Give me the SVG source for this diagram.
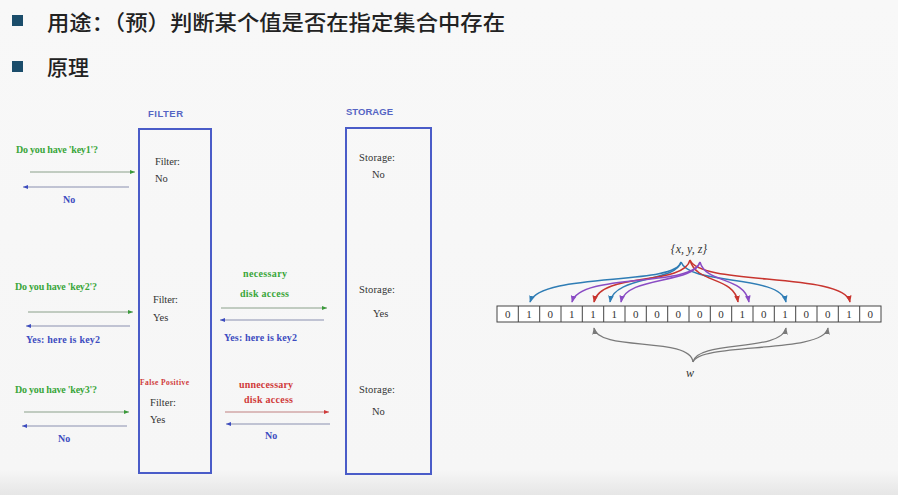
<svg xmlns="http://www.w3.org/2000/svg" width="898" height="495" viewBox="0 0 898 495">
<defs>
<linearGradient id="bg" x1="0" y1="0" x2="0" y2="1">
<stop offset="0" stop-color="#f8f8f8"/>
<stop offset="0.95" stop-color="#f6f6f6"/>
<stop offset="1" stop-color="#e6e6e6"/>
</linearGradient>
<marker id="mg" viewBox="0 0 10 10" refX="10" refY="5" markerWidth="6" markerHeight="5" orient="auto" markerUnits="userSpaceOnUse"><path d="M0,1 L10,5 L0,9 z" fill="#3a9a3a"/></marker>
<marker id="mb" viewBox="0 0 10 10" refX="10" refY="5" markerWidth="6" markerHeight="5" orient="auto" markerUnits="userSpaceOnUse"><path d="M0,1 L10,5 L0,9 z" fill="#3c4cc0"/></marker>
<marker id="mr" viewBox="0 0 10 10" refX="10" refY="5" markerWidth="6" markerHeight="5" orient="auto" markerUnits="userSpaceOnUse"><path d="M0,1 L10,5 L0,9 z" fill="#d03a3a"/></marker>
<marker id="aBlue" viewBox="0 0 10 10" refX="9" refY="5" markerWidth="7" markerHeight="7" orient="auto" markerUnits="userSpaceOnUse"><path d="M0,1 L10,5 L0,9 z" fill="#2f7db5"/></marker>
<marker id="aRed" viewBox="0 0 10 10" refX="9" refY="5" markerWidth="7" markerHeight="7" orient="auto" markerUnits="userSpaceOnUse"><path d="M0,1 L10,5 L0,9 z" fill="#c8352f"/></marker>
<marker id="aPur" viewBox="0 0 10 10" refX="9" refY="5" markerWidth="7" markerHeight="7" orient="auto" markerUnits="userSpaceOnUse"><path d="M0,1 L10,5 L0,9 z" fill="#8a4cc4"/></marker>
<marker id="aGray" viewBox="0 0 10 10" refX="9" refY="5" markerWidth="7" markerHeight="7" orient="auto" markerUnits="userSpaceOnUse"><path d="M0,1 L10,5 L0,9 z" fill="#7a7a7a"/></marker>
</defs>
<style>
.hd{font-family:"Noto Sans CJK SC","Noto Sans",sans-serif;font-size:21px;font-weight:500;fill:#222}
.bul{fill:#1b4d6b}
.box{fill:none;stroke:#4a5cc8;stroke-width:2}
.ttl{font-family:"Liberation Sans",Arial,sans-serif;font-weight:bold;font-size:9.5px;fill:#5565c4}
.s{font-family:"Liberation Serif","Times New Roman",serif;font-size:10px;font-weight:bold}
.n{font-family:"Liberation Serif","Times New Roman",serif;font-size:10.5px;fill:#333}
.g{fill:#3aa63a}
.b{fill:#3c4cc0}
.r{fill:#d03a3a}
.fp{font-family:"Liberation Serif",serif;font-size:7.5px;fill:#d03a3a;font-weight:bold}
.lg{stroke:#8aa08a;stroke-width:1;fill:none}
.lb{stroke:#8a8fb0;stroke-width:1.2;fill:none}
.lr{stroke:#c08080;stroke-width:1;fill:none}
.cell{fill:#fff;stroke:#444;stroke-width:1}
.bit{font-family:"Liberation Serif","Times New Roman",serif;font-size:11px;fill:#333;text-anchor:middle}
.it{font-family:"Liberation Serif","Times New Roman",serif;font-style:italic;font-size:12px;fill:#333}
.cb{stroke:#2f7db5;stroke-width:1.5;fill:none;marker-end:url(#aBlue)}
.cr{stroke:#c8352f;stroke-width:1.5;fill:none;marker-end:url(#aRed)}
.cp{stroke:#8a4cc4;stroke-width:1.5;fill:none;marker-end:url(#aPur)}
.cg{stroke:#7a7a7a;stroke-width:1.3;fill:none;marker-end:url(#aGray)}
</style>
<rect x="0" y="0" width="898" height="495" fill="url(#bg)"/>

<g id="header">
<rect class="bul" x="12" y="15" width="11" height="11"/>
<text class="hd" x="47" y="30" textLength="458" lengthAdjust="spacingAndGlyphs">用途：（预）判断某个值是否在指定集合中存在</text>
<rect class="bul" x="12" y="61" width="11" height="11"/>
<text class="hd" x="47" y="75">原理</text>
</g>

<g id="filter">
<text class="ttl" x="148" y="117" textLength="35">FILTER</text>
<rect class="box" x="139" y="129" width="72" height="344"/>
<text class="n" x="155" y="165" textLength="25">Filter:</text>
<text class="n" x="155" y="182">No</text>
<text class="n" x="153" y="303" textLength="25">Filter:</text>
<text class="n" x="153" y="321">Yes</text>
<text class="fp" x="140" y="385" textLength="49">False Positive</text>
<text class="n" x="150" y="406" textLength="26">Filter:</text>
<text class="n" x="150" y="423">Yes</text>
</g>

<g id="storage">
<text class="ttl" x="346" y="115" textLength="47">STORAGE</text>
<rect class="box" x="346" y="128" width="85" height="346"/>
<text class="n" x="359" y="161" textLength="36">Storage:</text>
<text class="n" x="372" y="178">No</text>
<text class="n" x="359" y="293" textLength="36">Storage:</text>
<text class="n" x="373" y="317">Yes</text>
<text class="n" x="359" y="393" textLength="36">Storage:</text>
<text class="n" x="372" y="415">No</text>
</g>

<g id="labels">
<text class="s g" x="16" y="153" textLength="82">Do you have 'key1'?</text>
<text class="s b" x="63" y="203">No</text>
<text class="s g" x="15" y="290" textLength="82">Do you have 'key2'?</text>
<text class="s b" x="26" y="343" textLength="74">Yes: here is key2</text>
<text class="s g" x="243" y="277" textLength="44">necessary</text>
<text class="s g" x="240" y="297" textLength="49">disk access</text>
<text class="s b" x="224" y="341" textLength="73">Yes: here is key2</text>
<text class="s g" x="15" y="393" textLength="82">Do you have 'key3'?</text>
<text class="s b" x="58" y="442">No</text>
<text class="s r" x="239" y="388" textLength="54">unnecessary</text>
<text class="s r" x="244" y="403" textLength="49">disk access</text>
<text class="s b" x="265" y="439">No</text>
</g>

<g id="connectors">
<line class="lg" x1="30" y1="172" x2="135" y2="172" marker-end="url(#mg)"/>
<line class="lb" x1="129" y1="187" x2="23" y2="187" marker-end="url(#mb)"/>
<line class="lg" x1="28" y1="312" x2="133" y2="312" marker-end="url(#mg)"/>
<line class="lb" x1="130" y1="326" x2="26" y2="326" marker-end="url(#mb)"/>
<line class="lg" x1="221" y1="308" x2="327" y2="308" marker-end="url(#mg)"/>
<line class="lb" x1="324" y1="320" x2="220" y2="320" marker-end="url(#mb)"/>
<line class="lg" x1="24" y1="412" x2="129" y2="412" marker-end="url(#mg)"/>
<line class="lb" x1="127" y1="426" x2="22" y2="426" marker-end="url(#mb)"/>
<line class="lr" x1="225" y1="412" x2="329" y2="412" marker-end="url(#mr)"/>
<line class="lb" x1="330" y1="424" x2="226" y2="424" marker-end="url(#mb)"/>
</g>

<g id="bitarray">
<rect class="cell" x="497" y="306" width="384" height="16"/>
<g stroke="#444" stroke-width="1">
<line x1="518.3" y1="306" x2="518.3" y2="322"/><line x1="539.7" y1="306" x2="539.7" y2="322"/><line x1="561" y1="306" x2="561" y2="322"/><line x1="582.3" y1="306" x2="582.3" y2="322"/><line x1="603.7" y1="306" x2="603.7" y2="322"/><line x1="625" y1="306" x2="625" y2="322"/><line x1="646.3" y1="306" x2="646.3" y2="322"/><line x1="667.7" y1="306" x2="667.7" y2="322"/><line x1="689" y1="306" x2="689" y2="322"/><line x1="710.3" y1="306" x2="710.3" y2="322"/><line x1="731.7" y1="306" x2="731.7" y2="322"/><line x1="753" y1="306" x2="753" y2="322"/><line x1="774.3" y1="306" x2="774.3" y2="322"/><line x1="795.7" y1="306" x2="795.7" y2="322"/><line x1="817" y1="306" x2="817" y2="322"/><line x1="838.3" y1="306" x2="838.3" y2="322"/><line x1="859.7" y1="306" x2="859.7" y2="322"/>
</g>
<text class="bit" x="507.7" y="318">0</text><text class="bit" x="529" y="318">1</text><text class="bit" x="550.3" y="318">0</text><text class="bit" x="571.7" y="318">1</text><text class="bit" x="593" y="318">1</text><text class="bit" x="614.3" y="318">1</text><text class="bit" x="635.7" y="318">0</text><text class="bit" x="657" y="318">0</text><text class="bit" x="678.3" y="318">0</text><text class="bit" x="699.7" y="318">0</text><text class="bit" x="721" y="318">0</text><text class="bit" x="742.3" y="318">1</text><text class="bit" x="763.7" y="318">0</text><text class="bit" x="785" y="318">1</text><text class="bit" x="806.3" y="318">0</text><text class="bit" x="827.7" y="318">0</text><text class="bit" x="849" y="318">1</text><text class="bit" x="870.3" y="318">0</text>
<text class="it" x="689" y="253" text-anchor="middle">{x, y, z}</text>
<text class="it" x="690" y="377" text-anchor="middle">w</text>
</g>

<g id="hash-arrows">
<path class="cb" d="M681,262 C676,286 540,272 530,302"/>
<path class="cb" d="M681,262 C676,282 614,276 610,302"/>
<path class="cb" d="M681,262 C690,286 780,274 786,302"/>
<path class="cr" d="M690,260 C684,286 600,272 594,302"/>
<path class="cr" d="M690,260 C696,284 734,276 738,302"/>
<path class="cr" d="M690,260 C700,286 844,272 850,302"/>
<path class="cp" d="M700,262 C692,288 580,272 572,302"/>
<path class="cp" d="M700,262 C694,284 626,276 621,302"/>
<path class="cp" d="M700,262 C706,284 744,276 749,302"/>
<path class="cg" d="M693,362 C690,336 598,352 594,328"/>
<path class="cg" d="M693,362 C697,340 782,352 786,328"/>
<path class="cg" d="M693,362 C700,342 824,354 828,328"/>
</g>
</svg>
